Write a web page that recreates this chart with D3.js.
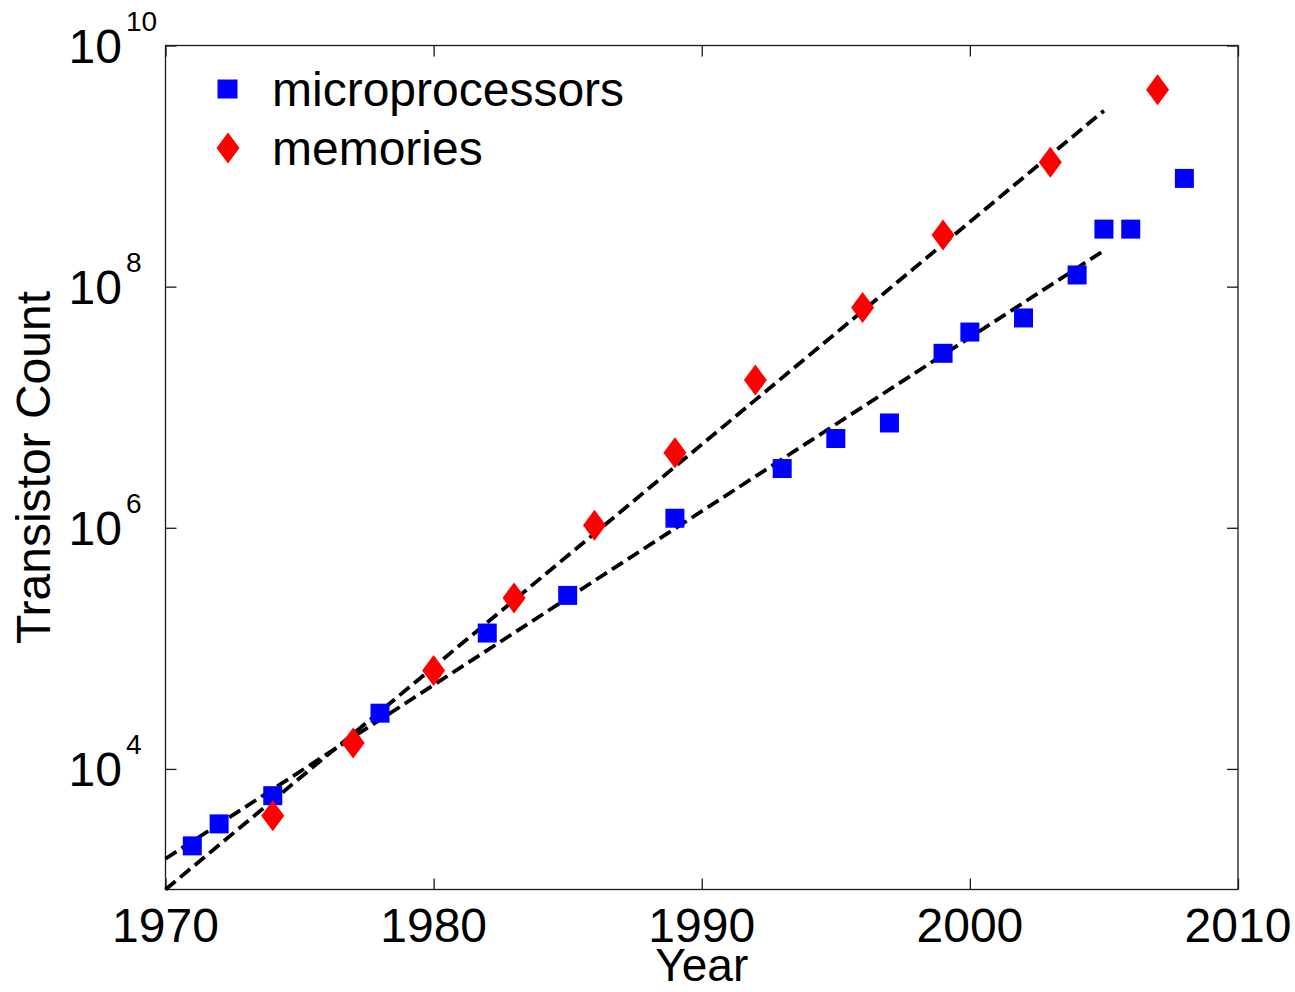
<!DOCTYPE html>
<html>
<head>
<meta charset="utf-8">
<script src="https://cdn.jsdelivr.net/npm/d3@7"></script>
<style>
  html, body { margin: 0; padding: 0; background: #fff; }
  svg { display: block; }
  text { font-family: "Liberation Sans", Arial, Helvetica, sans-serif; fill: #000; }
</style>
</head>
<body>
<script>
// ---- Data ----
const microYears  = [1971, 1972, 1974, 1978, 1982, 1985, 1989, 1993, 1995, 1997, 1999, 2000, 2002, 2004, 2005, 2006, 2008];
const microCounts = [2300, 3500, 6000, 29000, 134000, 275000, 1200000, 3100000, 5500000, 7400000, 28000000, 42000000, 55000000, 125000000, 300000000, 300000000, 790000000];

const memoryYears  = [1974, 1977, 1980, 1983, 1986, 1989, 1992, 1996, 1999, 2003, 2007];
const memoryCounts = [4096, 16384, 65536, 262144, 1048576, 4194304, 16777216, 67108864, 268435456, 1073741824, 4294967296];

const fitYears     = [1970, 2005];
const microFit     = [1800, 199000000];
const memoryFit    = [1000, 2880000000];

const xTickValues  = [1970, 1980, 1990, 2000, 2010];
const yTickValues  = [1e4, 1e6, 1e8, 1e10];
const yTickExps    = ["4", "6", "8", "10"];

const legendLabels = ["microprocessors", "memories"];

// ---- Layout ----
const W = 1295, H = 992;
const mLeft = 165.5, mRight = 1238, mTop = 45.5, mBottom = 889.5;

const svg = d3.select("body").append("svg")
  .attr("width", W).attr("height", H);

const x = d3.scaleLinear().domain([1970, 2010]).range([mLeft, mRight]);
const y = d3.scaleLog().domain([1e3, 1e10]).range([mBottom, mTop]);

const FS = 48;

// frame
svg.append("rect")
  .attr("x", mLeft).attr("y", mTop)
  .attr("width", mRight - mLeft).attr("height", mBottom - mTop)
  .attr("fill", "none").attr("stroke", "#1a1a1a").attr("stroke-width", 1.3);

// axes with inner ticks (D3 axes, labels drawn separately)
const tickLen = 11;
const axB = svg.append("g").attr("transform", `translate(0,${mBottom})`)
  .call(d3.axisTop(x).tickValues(xTickValues).tickSize(tickLen).tickFormat(""));
const axT = svg.append("g").attr("transform", `translate(0,${mTop})`)
  .call(d3.axisBottom(x).tickValues(xTickValues).tickSize(tickLen).tickFormat(""));
const axL = svg.append("g").attr("transform", `translate(${mLeft},0)`)
  .call(d3.axisRight(y).tickValues(yTickValues).tickSize(tickLen).tickFormat(""));
const axR = svg.append("g").attr("transform", `translate(${mRight},0)`)
  .call(d3.axisLeft(y).tickValues(yTickValues).tickSize(tickLen).tickFormat(""));
[axB, axT, axL, axR].forEach(a => {
  a.select(".domain").remove();
  a.selectAll(".tick line").attr("stroke", "#1a1a1a").attr("stroke-width", 1.3);
});

// x tick labels
svg.append("g").selectAll("text").data(xTickValues).join("text")
  .attr("x", d => x(d)).attr("y", 942)
  .attr("text-anchor", "middle")
  .attr("font-size", FS)
  .text(d => d);

// y tick labels: "10" + superscript exponent
const yl = svg.append("g");
yl.selectAll("text.base").data(yTickValues).join("text")
  .attr("class", "base")
  .attr("x", 122).attr("y", d => y(d) + 17)
  .attr("text-anchor", "end")
  .attr("font-size", FS)
  .text("10");
yl.selectAll("text.exp").data(yTickValues).join("text")
  .attr("class", "exp")
  .attr("x", 126).attr("y", d => y(d) - 14.5)
  .attr("text-anchor", "start")
  .attr("font-size", 28)
  .text((d, i) => yTickExps[i]);

// axis titles
svg.append("text")
  .attr("x", (mLeft + mRight) / 2).attr("y", 981)
  .attr("text-anchor", "middle").attr("font-size", 46)
  .text("Year");
svg.append("text")
  .attr("transform", `translate(50,${(mTop + mBottom) / 2}) rotate(-90)`)
  .attr("text-anchor", "middle").attr("font-size", FS)
  .text("Transistor Count");

// fit lines
const line = d3.line().x(d => x(d[0])).y(d => y(d[1]));
[microFit, memoryFit].forEach(fit => {
  svg.append("path")
    .datum(fitYears.map((yr, i) => [yr, fit[i]]))
    .attr("d", line)
    .attr("fill", "none")
    .attr("stroke", "#000")
    .attr("stroke-width", 3.8)
    .attr("stroke-dasharray", "13,6");
});

// markers
const SQ = 19;
svg.append("g").selectAll("rect").data(microYears.map((yr, i) => [yr, microCounts[i]])).join("rect")
  .attr("x", d => x(d[0]) - SQ / 2).attr("y", d => y(d[1]) - SQ / 2)
  .attr("width", SQ).attr("height", SQ)
  .attr("fill", "#0000ff");

const DW = 11.5, DH = 15.5;
const diamond = (cx, cy) => `M${cx},${cy - DH}L${cx + DW},${cy}L${cx},${cy + DH}L${cx - DW},${cy}Z`;
svg.append("g").selectAll("path").data(memoryYears.map((yr, i) => [yr, memoryCounts[i]])).join("path")
  .attr("d", d => diamond(x(d[0]), y(d[1])))
  .attr("fill", "#ff0000");

// legend
const lg = svg.append("g");
lg.append("rect").attr("x", 227.5 - 10).attr("y", 89 - 9.5).attr("width", 20).attr("height", 19).attr("fill", "#0000ff");
lg.append("path").attr("d", diamond(228, 148)).attr("fill", "#ff0000");
lg.selectAll("text").data(legendLabels).join("text")
  .attr("x", 272).attr("y", (d, i) => [106, 165][i])
  .attr("font-size", FS)
  .text(d => d);
</script>
</body>
</html>
